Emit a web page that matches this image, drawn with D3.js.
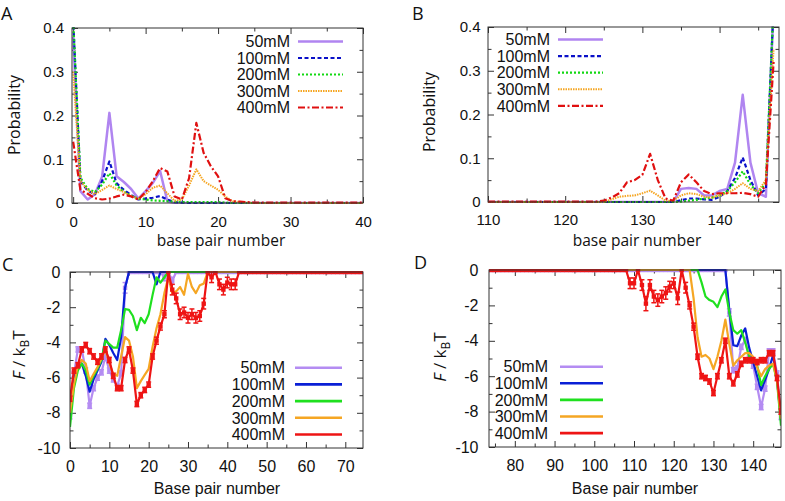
<!DOCTYPE html>
<html><head><meta charset="utf-8">
<script src="https://cdn.jsdelivr.net/npm/d3@7"></script>
<style>body{margin:0;background:#fff}svg{display:block}</style>
</head><body>
<svg id="chart" width="785" height="501"></svg>
<script>
// ---------- categories / labels ----------
const seriesNames = ["50mM", "100mM", "200mM", "300mM", "400mM"];
const panelLetters = ["A", "B", "C", "D"];
const xTicksA = [0, 10, 20, 30, 40];
const xMinorA = [5, 15, 25, 35];
const xTicksB = [110, 120, 130, 140];
const xMinorB = [115, 125, 135, 145];
const xTicksC = [0, 10, 20, 30, 40, 50, 60, 70];
const xMinorC = [5, 15, 25, 35, 45, 55, 65];
const xTicksD = [80, 90, 100, 110, 120, 130, 140];
const xMinorD = [75, 85, 95, 105, 115, 125, 135, 145];
const yTicksProb = [0, 0.1, 0.2, 0.3, 0.4];
const yMinorProb = [0.05, 0.15, 0.25, 0.35];
const yTicksF = [0, -2, -4, -6, -8, -10];
const yMinorF = [-1, -3, -5, -7, -9];

// ---------- panel A : probability, base pairs 0..40 ----------
const xA = d3.range(0, 41);
const probA_50  = [0.38,0.027,0.008,0.02,0.06,0.206,0.061,0.048,0.032,0.01,0.027,0.046,0.073,0.004,0,0,0,0,0,0,0,0,0,0,0,0,0,0,0,0,0,0,0,0,0,0,0,0,0,0,0];
const probA_100 = [0.42,0.05,0.028,0.02,0.05,0.095,0.045,0.03,0.018,0.008,0.01,0.012,0.016,0.008,0.002,0.001,0,0,0,0,0,0,0,0,0,0,0,0,0,0,0,0,0,0,0,0,0,0,0,0,0];
const probA_200 = [0.42,0.058,0.032,0.025,0.042,0.068,0.04,0.026,0.016,0.01,0.008,0.006,0.005,0.004,0.003,0.002,0.002,0.002,0.002,0.002,0.002,0.001,0,0,0,0,0,0,0,0,0,0,0,0,0,0,0,0,0,0,0];
const probA_300 = [0.3,0.05,0.03,0.02,0.03,0.04,0.032,0.025,0.016,0.01,0.02,0.035,0.04,0.022,0.005,0.008,0.04,0.077,0.05,0.04,0.03,0.015,0.004,0.002,0.001,0,0,0,0,0,0,0,0,0,0,0,0,0,0,0,0];
const probA_400 = [0.14,0.03,0.021,0.011,0.008,0.01,0.015,0.019,0.015,0.008,0.025,0.05,0.08,0.072,0.015,0.008,0.057,0.183,0.115,0.084,0.061,0.011,0.004,0.003,0.002,0.001,0.001,0.001,0.001,0.001,0.001,0.001,0.001,0.001,0.001,0.001,0.001,0.001,0.001,0.001,0.001];

// ---------- panel B : probability, base pairs 110..147 ----------
const xB = d3.range(110, 148);
const probB_50  = [0,0,0,0,0,0,0,0,0,0,0,0,0,0,0,0,0,0,0,0,0,0,0,0,0,0.03,0.032,0.03,0.015,0.015,0.025,0.03,0.09,0.245,0.09,0.02,0.012,0.45];
const probB_100 = [0,0,0,0,0,0,0,0,0,0,0,0,0,0,0,0,0,0,0,0,0,0,0,0,0,0.004,0.008,0.008,0.006,0.005,0.012,0.025,0.055,0.102,0.05,0.015,0.03,0.45];
const probB_200 = [0,0,0,0,0,0,0,0,0,0,0,0,0,0,0,0,0,0,0,0,0,0,0,0,0,0.001,0.003,0.005,0.008,0.01,0.015,0.025,0.045,0.07,0.04,0.02,0.045,0.45];
const probB_300 = [0,0,0,0,0,0,0,0,0,0,0,0,0,0,0,0,0.006,0.012,0.014,0.015,0.02,0.026,0.015,0.003,0.003,0.015,0.02,0.018,0.012,0.01,0.015,0.02,0.03,0.043,0.03,0.025,0.05,0.35];
const probB_400 = [0.001,0.001,0.001,0.001,0.001,0.001,0.001,0.001,0.001,0.001,0.001,0.001,0.001,0.001,0.001,0.003,0.01,0.02,0.045,0.05,0.062,0.11,0.05,0.008,0.003,0.045,0.063,0.045,0.025,0.018,0.02,0.02,0.02,0.021,0.018,0.012,0.04,0.32];

// ---------- panel C : free energy, base pairs 0..74 ----------
const xC = d3.range(0, 75);
const freeC_50  = [-8.2,-5.8,-4.4,-4.4,-5.6,-7.6,-6.6,-6.0,-5.7,-4.8,-5.6,-6.1,-6.5,-5.75,-0.9,0,0,0,0,0,0,0,0,0,-0.3,0,-0.5,0,0,0,0,0,0,0,0,0,0,0,0,0,0,0,0,0,0,0,0,0,0,0,0,0,0,0,0,0,0,0,0,0,0,0,0,0,0,0,0,0,0,0,0,0,0,0,0];
const freeC_100 = [-8.3,-6.0,-5.5,-5.2,-5.9,-6.8,-6.1,-5.6,-5.1,-3.8,-4.15,-4.6,-5.0,-3.7,-0.9,0,0,0,0,0,0,0,-0.7,0,0,0,0,0,0,0,0,0,0,0,0,0,0,0,0,0,0,0,0,0,0,0,0,0,0,0,0,0,0,0,0,0,0,0,0,0,0,0,0,0,0,0,0,0,0,0,0,0,0,0,0];
const freeC_200 = [-8.8,-6.6,-5.6,-5.2,-5.6,-6.4,-5.9,-5.5,-5.0,-3.9,-4.1,-4.3,-4.3,-3.3,-2.1,-2.15,-2.5,-3.3,-2.6,-2.9,-2.4,-1.3,-0.3,-0.6,-0.3,0,0,0,0,0,0,0,0,0,0,0,0,0,0,0,0,0,0,0,0,0,0,0,0,0,0,0,0,0,0,0,0,0,0,0,0,0,0,0,0,0,0,0,0,0,0,0,0,0,0];
const freeC_300 = [-8.0,-6.4,-5.3,-5.0,-5.2,-6.2,-5.8,-5.4,-4.9,-4.4,-5.2,-5.8,-5.9,-4.8,-3.7,-3.9,-4.8,-6.6,-6.2,-5.85,-5.5,-4.25,-3.2,-2.4,-1.2,-0.3,-1.2,-1.1,-0.85,-1.3,-0.1,-0.85,-1.2,-0.75,-0.66,0,0,0,0,0,0,0,0,0,0,0,0,0,0,0,0,0,0,0,0,0,0,0,0,0,0,0,0,0,0,0,0,0,0,0,0,0,0,0,0];
const freeC_400 = [-7.2,-5.6,-5.3,-4.4,-4.15,-4.5,-4.8,-5.1,-4.8,-4.4,-5.0,-5.9,-6.6,-6.6,-5.0,-4.4,-5.6,-7.5,-7.0,-6.7,-6.4,-4.8,-3.9,-3.1,-2.4,0,-1.0,-1.5,-2.4,-2.3,-2.6,-2.4,-2.6,-2.5,-1.8,0,-0.3,0,-0.7,-1.0,-0.6,-0.7,-0.7,0,0,0,0,0,0,0,0,0,0,0,0,0,0,0,0,0,0,0,0,0,0,0,0,0,0,0,0,0,0,0,0];
const errC_50  = [0.15,0.15,0.15,0.15,0.15,0.15,0.15,0.15,0.15,0.15,0.15,0.15,0.15,0.15,0.3,0,0,0,0,0,0,0,0,0,0.2,0,0.2];
const errC_400 = [0.15,0.15,0.15,0.15,0.15,0.15,0.15,0.15,0.15,0.15,0.15,0.15,0.15,0.15,0.15,0.15,0.15,0.15,0.15,0.15,0.15,0.15,0.2,0.2,0.2,0,0.3,0.3,0.3,0.3,0.3,0.3,0.3,0.3,0.3,0,0.3,0,0.3,0.3,0.3,0.3,0.3,0];

// ---------- panel D : free energy, base pairs 74..147 ----------
const xD = d3.range(74, 148);
const freeD_50  = [0,0,0,0,0,0,0,0,0,0,0,0,0,0,0,0,0,0,0,0,0,0,0,0,0,0,0,0,0,0,0,0,0,0,0,0,0,0,0,0,0,0,0,0,0,0,0,0,0,0,0,0,0,0,0,0,0,0,0,0,-2.4,-5.66,-5.57,-4.34,-3.96,-5.0,-5.4,-6.6,-7.74,-6.7,-4.6,-4.6,-5.85,-8.3];
const freeD_100 = [0,0,0,0,0,0,0,0,0,0,0,0,0,0,0,0,0,0,0,0,0,0,0,0,0,0,0,0,0,0,0,0,0,0,0,0,0,0,0,0,0,0,0,0,0,0,0,0,0,0,0,0,0,0,0,0,0,0,0,0,-2.3,-4.25,-4.3,-3.7,-3.3,-4.4,-5.2,-6.0,-6.8,-6.2,-5.6,-4.8,-6.2,-8.5];
const freeD_200 = [0,0,0,0,0,0,0,0,0,0,0,0,0,0,0,0,0,0,0,0,0,0,0,0,0,0,0,0,0,0,0,0,0,0,0,0,0,0,0,0,0,0,0,0,0,0,0,0,0,0,0,0,0,-0.7,-1.5,-1.7,-1.8,-2.1,-1.5,-1.1,-2.4,-3.4,-3.6,-3.4,-4.1,-4.9,-5.1,-5.4,-6.5,-6.0,-5.6,-5.3,-6.3,-8.8];
const freeD_300 = [0,0,0,0,0,0,0,0,0,0,0,0,0,0,0,0,0,0,0,0,0,0,0,0,0,0,0,0,0,0,0,0,0,0,0,0,0,0,0,0,0,0,0,0,0,0,0,0,0,0,0,-1.6,-3.8,-4.9,-4.8,-5.0,-5.6,-4.9,-4.0,-2.8,-4.2,-5.4,-5.1,-4.9,-4.7,-4.7,-4.9,-5.5,-6.0,-5.6,-5.4,-5.3,-6.2,-8.4];
const freeD_400 = [0,0,0,0,0,0,0,0,0,0,0,0,0,0,0,0,0,0,0,0,0,0,0,0,0,0,0,0,0,0,0,0,0,0,0,-0.75,-0.75,0,-0.85,-1.9,-0.85,-1.5,-1.7,-1.5,-1.3,-0.94,-0.75,-1.6,0,-1.0,-2.0,-3.2,-4.9,-6.0,-6.1,-6.3,-6.95,-6.0,-5.1,-4.0,-6.0,-6.4,-5.9,-5.3,-5.1,-5.1,-5.1,-5.2,-5.1,-5.1,-4.7,-4.7,-6.1,-8.0];
const errD_50  = [0,0,0,0,0,0,0,0,0,0,0,0,0,0,0,0,0,0,0,0,0,0,0,0,0,0,0,0,0,0,0,0,0,0,0,0,0,0,0,0,0,0,0,0,0,0,0,0,0,0,0,0,0,0,0,0,0,0,0,0,0.2,0.15,0.15,0.15,0.15,0.15,0.15,0.15,0.15,0.15,0.15,0.15,0.15,0.15];
const errD_400 = [0,0,0,0,0,0,0,0,0,0,0,0,0,0,0,0,0,0,0,0,0,0,0,0,0,0,0,0,0,0,0,0,0,0,0,0.3,0.3,0,0.3,0.4,0.3,0.35,0.35,0.35,0.35,0.3,0.3,0.35,0,0.3,0.2,0.2,0.15,0.15,0.15,0.15,0.15,0.15,0.15,0.15,0.15,0.15,0.15,0.15,0.15,0.15,0.15,0.15,0.15,0.15,0.15,0.15,0.15,0.15];

// ---------- styles ----------
const topColors = ["#b085f0", "#0a10c8", "#12d812", "#f5a623", "#e01010"];
const topDash   = [null, "4,2.5", "2,2", "1.5,1", "7,2.5,2,2.5"];
const topWidth  = [2.5, 2.2, 2.2, 2, 2.2];
const botColors = ["#b48cf2", "#0a1fd6", "#1fe01f", "#f5a623", "#ee1414"];

const svg = d3.select("#chart");
const tickFont = "'Liberation Sans', Arial, sans-serif";
const humanFont = "'Open Sans', Lato, sans-serif";

function drawPanel(cfg, idx) {
  const g = svg.append("g");
  const x = d3.scaleLinear().domain(cfg.xDomain).range([cfg.left, cfg.right]);
  const y = d3.scaleLinear().domain(cfg.yDomain).range([cfg.bottom, cfg.top]);
  const W = cfg.right - cfg.left, H = cfg.bottom - cfg.top;
  const cid = "clip" + idx;
  svg.append("clipPath").attr("id", cid).append("rect")
    .attr("x", cfg.left).attr("y", cfg.top - 1).attr("width", W).attr("height", H + 2);

  // axes with inward ticks
  const axes = [
    {ax: d3.axisBottom(x).tickValues(cfg.xTicks).tickSize(-6).tickPadding(cfg.xPad).tickFormat(d => String(d)), tr: `translate(0,${cfg.bottom})`},
    {ax: d3.axisBottom(x).tickValues(cfg.xMinor).tickSize(-3.5).tickFormat(""), tr: `translate(0,${cfg.bottom})`},
    {ax: d3.axisTop(x).tickValues(cfg.xTicks).tickSize(-6).tickFormat(""), tr: `translate(0,${cfg.top})`},
    {ax: d3.axisTop(x).tickValues(cfg.xMinor).tickSize(-3.5).tickFormat(""), tr: `translate(0,${cfg.top})`},
    {ax: d3.axisLeft(y).tickValues(cfg.yTicks).tickSize(-6).tickPadding(cfg.yPad).tickFormat(cfg.yFmt), tr: `translate(${cfg.left},0)`},
    {ax: d3.axisLeft(y).tickValues(cfg.yMinor).tickSize(-3.5).tickFormat(""), tr: `translate(${cfg.left},0)`},
    {ax: d3.axisRight(y).tickValues(cfg.yTicks).tickSize(-6).tickFormat(""), tr: `translate(${cfg.right},0)`},
    {ax: d3.axisRight(y).tickValues(cfg.yMinor).tickSize(-3.5).tickFormat(""), tr: `translate(${cfg.right},0)`}
  ];
  axes.forEach(a => {
    const ag = g.append("g").attr("transform", a.tr).call(a.ax);
    ag.select(".domain").remove();
    ag.selectAll(".tick line").attr("stroke", "#333").attr("stroke-width", 1);
    ag.selectAll(".tick text").attr("font-family", tickFont).attr("font-size", cfg.tickSize).attr("fill", "#111");
  });

  // series
  const lg = g.append("g").attr("clip-path", `url(#${cid})`);
  cfg.series.forEach((s, si) => {
    const line = d3.line().x((d, i) => x(cfg.xs[i])).y(d => y(d));
    lg.append("path").datum(s.values)
      .attr("fill", "none").attr("stroke", s.color).attr("stroke-width", s.width)
      .attr("stroke-dasharray", s.dash).attr("stroke-linejoin", "round")
      .attr("d", line);
    if (s.err) {
      const eg = lg.append("g").attr("stroke", s.color).attr("stroke-width", 1.5);
      s.values.forEach((v, i) => {
        const e = s.err[i] || 0;
        const cx = x(cfg.xs[i]);
        if (e > 0) {
          eg.append("line").attr("x1", cx).attr("x2", cx).attr("y1", y(v - e)).attr("y2", y(v + e));
          eg.append("line").attr("x1", cx - 2.5).attr("x2", cx + 2.5).attr("y1", y(v - e)).attr("y2", y(v - e));
          eg.append("line").attr("x1", cx - 2.5).attr("x2", cx + 2.5).attr("y1", y(v + e)).attr("y2", y(v + e));
        }
      });
    }
    if (s.markers) {
      lg.append("g").selectAll("rect").data(s.values).join("rect")
        .attr("x", (d, i) => x(cfg.xs[i]) - 2.2).attr("y", d => y(d) - 2.2)
        .attr("width", 4.4).attr("height", 4.4).attr("fill", s.color);
    }
  });

  // border
  g.append("rect").attr("x", cfg.left).attr("y", cfg.top).attr("width", W).attr("height", H)
    .attr("fill", "none").attr("stroke", "#333").attr("stroke-width", 1);

  // legend
  cfg.series.forEach((s, si) => {
    const cy = cfg.leg.y0 + si * cfg.leg.dy;
    g.append("text").attr("x", cfg.leg.tx).attr("y", cy + 5.7).attr("text-anchor", "end")
      .attr("font-family", tickFont).attr("font-size", 16).attr("fill", "#111").text(s.name);
    g.append("line").attr("x1", cfg.leg.l1).attr("x2", cfg.leg.l2).attr("y1", cy).attr("y2", cy)
      .attr("stroke", s.color).attr("stroke-width", s.legWidth || s.width).attr("stroke-dasharray", s.dash);
  });

  // panel letter
  g.append("text").attr("x", cfg.letter[0]).attr("y", cfg.letter[1])
    .attr("font-family", humanFont).attr("font-size", 18).attr("fill", "#111").text(cfg.letterText);

  // x label
  g.append("text").attr("x", cfg.xlab[0]).attr("y", cfg.xlab[1]).attr("text-anchor", "middle")
    .attr("font-family", cfg.xlabFont).attr("font-size", cfg.xlabSize).attr("fill", "#111").text(cfg.xlabText);

  // y label
  const yl = g.append("text").attr("transform", `translate(${cfg.ylab[0]},${cfg.ylab[1]}) rotate(-90)`)
    .attr("text-anchor", "middle").attr("font-family", humanFont).attr("font-size", 16).attr("fill", "#111");
  if (cfg.energy) {
    yl.attr("font-size", 17);
    yl.append("tspan").attr("font-style", "italic").text("F");
    yl.append("tspan").text(" / k");
    yl.append("tspan").attr("font-size", 12).attr("dy", 4).text("B");
    yl.append("tspan").attr("dy", -4).text("T");
  } else {
    yl.text("Probability");
  }
}

function topSeries(vals) {
  return seriesNames.map((n, i) => ({name: n, values: vals[i], color: topColors[i], dash: topDash[i], width: topWidth[i]}));
}
function botSeries(vals, errs) {
  return seriesNames.map((n, i) => ({name: n, values: vals[i], color: botColors[i], dash: null, width: 2.2, legWidth: 2.6,
    err: errs[i], markers: !!errs[i]}));
}
const probFmt = d => d === 0 ? "0" : d.toFixed(1);
const fFmt = d => String(d);

const panels = [
  {letterText: panelLetters[0], letter: [1, 20], xDomain: [-0.16, 40], yDomain: [0, 0.4],
   left: 72, right: 363, top: 28, bottom: 203, xTicks: xTicksA, xMinor: xMinorA, yTicks: yTicksProb, yMinor: yMinorProb,
   yFmt: probFmt, xPad: 13, yPad: 8, xs: xA, tickSize: 15,
   series: topSeries([probA_50, probA_100, probA_200, probA_300, probA_400]),
   leg: {tx: 290, l1: 298, l2: 343, y0: 41.5, dy: 16.5},
   xlab: [221, 246], xlabText: "base pair number", xlabFont: humanFont, xlabSize: 15.5, ylab: [20, 115]},
  {letterText: panelLetters[1], letter: [412, 20], xDomain: [110, 147.7], yDomain: [0, 0.4],
   left: 488, right: 779, top: 27, bottom: 202, xTicks: xTicksB, xMinor: xMinorB, yTicks: yTicksProb, yMinor: yMinorProb,
   yFmt: probFmt, xPad: 12, yPad: 7.5, xs: xB, tickSize: 15,
   series: topSeries([probB_50, probB_100, probB_200, probB_300, probB_400]),
   leg: {tx: 550, l1: 558, l2: 603, y0: 39.5, dy: 16.6},
   xlab: [637, 246], xlabText: "base pair number", xlabFont: humanFont, xlabSize: 15.5, ylab: [435, 112]},
  {letterText: panelLetters[2], letter: [2, 271], xDomain: [0, 74.5], yDomain: [-10, 0],
   left: 70, right: 363, top: 272, bottom: 448, xTicks: xTicksC, xMinor: xMinorC, yTicks: yTicksF, yMinor: yMinorF,
   yFmt: fFmt, xPad: 13, yPad: 9.5, xs: xC, energy: true, tickSize: 16,
   series: botSeries([freeC_50, freeC_100, freeC_200, freeC_300, freeC_400], [errC_50, null, null, null, errC_400]),
   leg: {tx: 285, l1: 295, l2: 342, y0: 367.7, dy: 16.7},
   xlab: [217, 494], xlabText: "Base pair number", xlabFont: tickFont, xlabSize: 16, ylab: [25, 355]},
  {letterText: panelLetters[3], letter: [414, 269], xDomain: [73.5, 147], yDomain: [-10, 0],
   left: 489, right: 781, top: 270, bottom: 447, xTicks: xTicksD, xMinor: xMinorD, yTicks: yTicksF, yMinor: yMinorF,
   yFmt: fFmt, xPad: 13, yPad: 10.5, xs: xD, energy: true, tickSize: 16,
   series: botSeries([freeD_50, freeD_100, freeD_200, freeD_300, freeD_400], [errD_50, null, null, null, errD_400]),
   leg: {tx: 548, l1: 560, l2: 603, y0: 366.7, dy: 16.6},
   xlab: [635, 494], xlabText: "Base pair number", xlabFont: tickFont, xlabSize: 16, ylab: [446, 357]}
];
panels.forEach((p, i) => drawPanel(p, i));
</script>
</body></html>
